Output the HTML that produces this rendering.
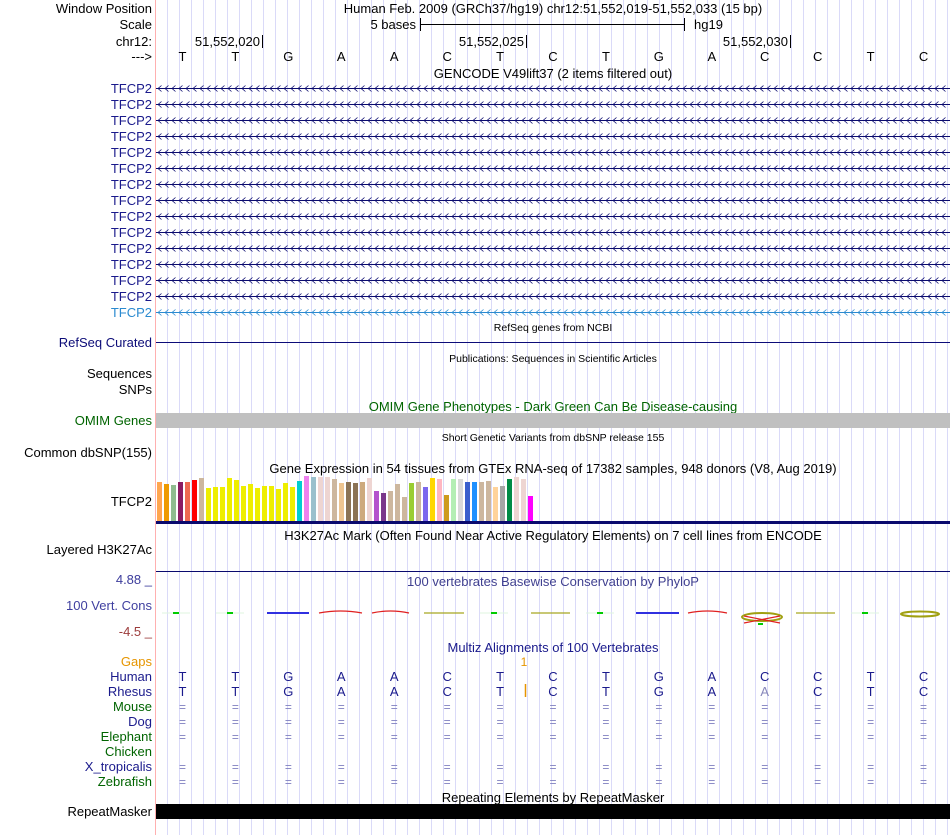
<!DOCTYPE html>
<html><head><meta charset="utf-8">
<style>
html,body{margin:0;padding:0;background:#fff;}
#wrap{position:relative;width:950px;height:835px;overflow:hidden;font-family:"Liberation Sans",sans-serif;}
svg text{font-family:"Liberation Sans",sans-serif;}
</style></head>
<body>
<div id="wrap">
<svg id="s" width="950" height="835" xmlns="http://www.w3.org/2000/svg">
<g id="guides"></g>
<line x1="155.5" y1="0" x2="155.5" y2="835" stroke="#ffb0b0"/>
<g id="labels" font-size="13" text-anchor="end"></g>
<g id="content"></g>
</svg>
</div>
<script>
const gtexHeights=[40,38,37,40,40,42,44,34,35,35,44,42,36,38,34,36,36,33,39,35,41,46,45,45,45,43,39,40,39,40,44,31,29,31,38,25,39,40,35,44,43,27,43,43,40,40,40,41,35,36,43,45,43,26];
const gtexColors=["#FFA54F","#EE9A00","#8FBC8F","#8B1C62","#EE6A50","#FF0000","#CDB79E","#EEEE00","#EEEE00","#EEEE00","#EEEE00","#EEEE00","#EEEE00","#EEEE00","#EEEE00","#EEEE00","#EEEE00","#EEEE00","#EEEE00","#EEEE00","#00CED1","#EE82EE","#9AC0CD","#EED5D2","#EED5D2","#CDB79E","#EEC591","#8B7355","#8B7355","#CDAA7D","#EED5D2","#B452CD","#7A378B","#CDB79E","#CDB79E","#CDB79E","#9ACD32","#CDB79E","#7B68EE","#FFD700","#FFB6C1","#CD9B1D","#B4EEB4","#D9D9D9","#3A5FCD","#1E90FF","#CDB79E","#CDB79E","#FFD39B","#A6A6A6","#008B45","#EED5D2","#EED5D2","#FF00FF"];
const bases=["T","T","G","A","A","C","T","C","T","G","A","C","C","T","C"];
const rhesus=["T","T","G","A","A","C","T","C","T","G","A","A","C","T","C"];
const species=["Mouse","Dog","Elephant","Chicken","X_tropicalis","Zebrafish"];
const speciesHasEq=[true,true,true,false,true,true];

const NS="http://www.w3.org/2000/svg";
const G=document.getElementById('guides'),L=document.getElementById('labels'),C=document.getElementById('content');
function mk(tag,attrs,parent,txt){const e=document.createElementNS(NS,tag);for(const k in attrs)e.setAttribute(k,attrs[k]);if(txt!==undefined)e.textContent=txt;parent.appendChild(e);return e;}
const X0=156,X1=950,BW=(X1-X0)/15;
function bx(i){return X0+BW*(i+0.5);}
for(let x=167;x<950;x+=12){mk('line',{x1:x+0.5,y1:0,x2:x+0.5,y2:835,stroke:'#dadaf8'},G);}
function lab(t,y,col){const e=mk('text',{x:152,y:y,fill:col||'#000'},L,t);return e;}
lab('Window Position',13);lab('Scale',29);lab('chr12:',46);lab('--->',61);
for(let i=0;i<15;i++){lab('TFCP2',93+16*i,i==14?'#2a8ad0':'#1a1a8c');}
lab('RefSeq Curated',347,'#0c0c78');lab('Sequences',378);lab('SNPs',394);
lab('OMIM Genes',425,'#006400');lab('Common dbSNP(155)',457);lab('TFCP2',506);
lab('Layered H3K27Ac',554);
lab('4.88 _',584,'#3c3c9c');lab('100 Vert. Cons',610,'#4040a0');lab('-4.5 _',636,'#9c3c3c');
lab('Gaps',666,'#e69500');lab('Human',681,'#1a1a8c');lab('Rhesus',696,'#1a1a8c');
const spCol=['#006400','#1a1a8c','#006400','#006400','#1a1a8c','#006400'];
species.forEach((s,i)=>lab(s,711+15*i,spCol[i]));
lab('RepeatMasker',816);
function title(t,y,size,col){const e=mk('text',{x:553,y:y,'text-anchor':'middle','font-size':size,fill:col||'#000'},C,t);}
title('Human Feb. 2009 (GRCh37/hg19)   chr12:51,552,019-51,552,033 (15 bp)',13,13);
title('GENCODE V49lift37 (2 items filtered out)',78,13);
title('RefSeq genes from NCBI',331,10.5);
title('Publications: Sequences in Scientific Articles',362,10.5);
title('OMIM Gene Phenotypes - Dark Green Can Be Disease-causing',411,13,'#006400');
title('Short Genetic Variants from dbSNP release 155',441,10.5);
title('Gene Expression in 54 tissues from GTEx RNA-seq of 17382 samples, 948 donors (V8, Aug 2019)',473,13);
title('H3K27Ac Mark (Often Found Near Active Regulatory Elements) on 7 cell lines from ENCODE',540,13);
title('100 vertebrates Basewise Conservation by PhyloP',586,13,'#404090');
title('Multiz Alignments of 100 Vertebrates',652,13,'#1a1a8c');
title('Repeating Elements by RepeatMasker',802,13);
mk('text',{x:416,y:29,'text-anchor':'end','font-size':13},C,'5 bases');
mk('line',{x1:420,y1:24.5,x2:685,y2:24.5,stroke:'#000'},C);
mk('line',{x1:420.5,y1:18,x2:420.5,y2:31,stroke:'#000'},C);
mk('line',{x1:684.5,y1:18,x2:684.5,y2:31,stroke:'#000'},C);
mk('text',{x:694,y:29,'font-size':13},C,'hg19');
[[262,'51,552,020'],[526,'51,552,025'],[790,'51,552,030']].forEach(p=>{mk('text',{x:p[0]-2,y:46,'text-anchor':'end','font-size':13},C,p[1]);mk('line',{x1:p[0]+0.5,y1:35,x2:p[0]+0.5,y2:48,stroke:'#000'},C);});
bases.forEach((b,i)=>{const e=mk('text',{x:bx(i),y:61,'text-anchor':'middle','font-size':13},C,b);});
for(let i=0;i<15;i++){const y=88+16*i+0.5;const col=i==14?'#2a8ad0':'#0a0a6e';
mk('line',{x1:X0,y1:y,x2:X1,y2:y,stroke:col},C);
let d='';for(let x=X0+2;x<X1-3;x+=7){d+=`M${x+3.5} ${y-3} L${x} ${y} L${x+3.5} ${y+3} `;}
const r=mk('path',{d:d,fill:'none',stroke:col,'stroke-width':0.8},C);}
mk('line',{x1:X0,y1:342.5,x2:X1,y2:342.5,stroke:'#0c0c78'},C);
const om=mk('rect',{x:X0,y:413,width:X1-X0,height:15,fill:'#c0c0c0'},C);
const gBase=522,gX=157,gStep=7;
gtexHeights.forEach((h,i)=>{const r=mk('rect',{x:gX+gStep*i,y:gBase-h,width:5,height:h,fill:gtexColors[i]},C);});
mk('rect',{x:X0,y:521,width:X1-X0,height:3,fill:'#0a0a6e'},C);
mk('line',{x1:X0,y1:571.5,x2:X1,y2:571.5,stroke:'#0a0a6e'},C);
const py=613;
function seg(x1,x2,col,dy){mk('path',{d:`M${x1} ${py} Q${(x1+x2)/2} ${py+dy} ${x2} ${py}`,fill:'none',stroke:col,'stroke-width':1.2},C);}
[176,230,494,600,865].forEach(x=>{mk('line',{x1:x-14,y1:py,x2:x+14,y2:py,stroke:'#dff5df'},C);mk('rect',{x:x-3,y:py-1,width:6,height:2,fill:'#0c0'},C);});
mk('rect',{x:267,y:py-1,width:42,height:2,fill:'#3030e0'},C);mk('rect',{x:636,y:py-1,width:43,height:2,fill:'#3030e0'},C);
seg(319,362,'#e02020',-4);seg(372,409,'#e02020',-4);seg(688,727,'#e02020',-4);
[[424,464],[531,570],[796,835]].forEach(p=>mk('line',{x1:p[0],y1:py,x2:p[1],y2:py,stroke:'#a8a820','stroke-width':1.2},C));
mk('ellipse',{cx:762,cy:617,rx:20,ry:4,fill:'none',stroke:'#a0a010','stroke-width':2},C);
mk('path',{d:'M744 623 L780 616 M744 616 L780 623',stroke:'#e02020','stroke-width':1.2,fill:'none'},C);
mk('rect',{x:758,y:623,width:5,height:2,fill:'#0c0'},C);
mk('ellipse',{cx:920,cy:614,rx:19,ry:2.5,fill:'none',stroke:'#a0a010','stroke-width':2},C);
mk('text',{x:524,y:666,'text-anchor':'middle','font-size':12,fill:'#e69500'},C,'1');
mk('line',{x1:525.5,y1:684,x2:525.5,y2:697,stroke:'#e69500','stroke-width':1.5},C);
bases.forEach((b,i)=>{mk('text',{x:bx(i),y:681,'text-anchor':'middle','font-size':13,fill:'#1a1a8c'},C,b);});
rhesus.forEach((b,i)=>{mk('text',{x:bx(i),y:696,'text-anchor':'middle','font-size':13,fill:i==11?'#8888bb':'#1a1a8c'},C,b);});
species.forEach((s,j)=>{if(!speciesHasEq[j])return;bases.forEach((b,i)=>{mk('text',{x:bx(i),y:711+15*j,'text-anchor':'middle','font-size':12,fill:'#8080c0'},C,'=');});});
const rm=mk('rect',{x:X0,y:804,width:X1-X0,height:15,fill:'#000'},C);
</script>
</body></html>
